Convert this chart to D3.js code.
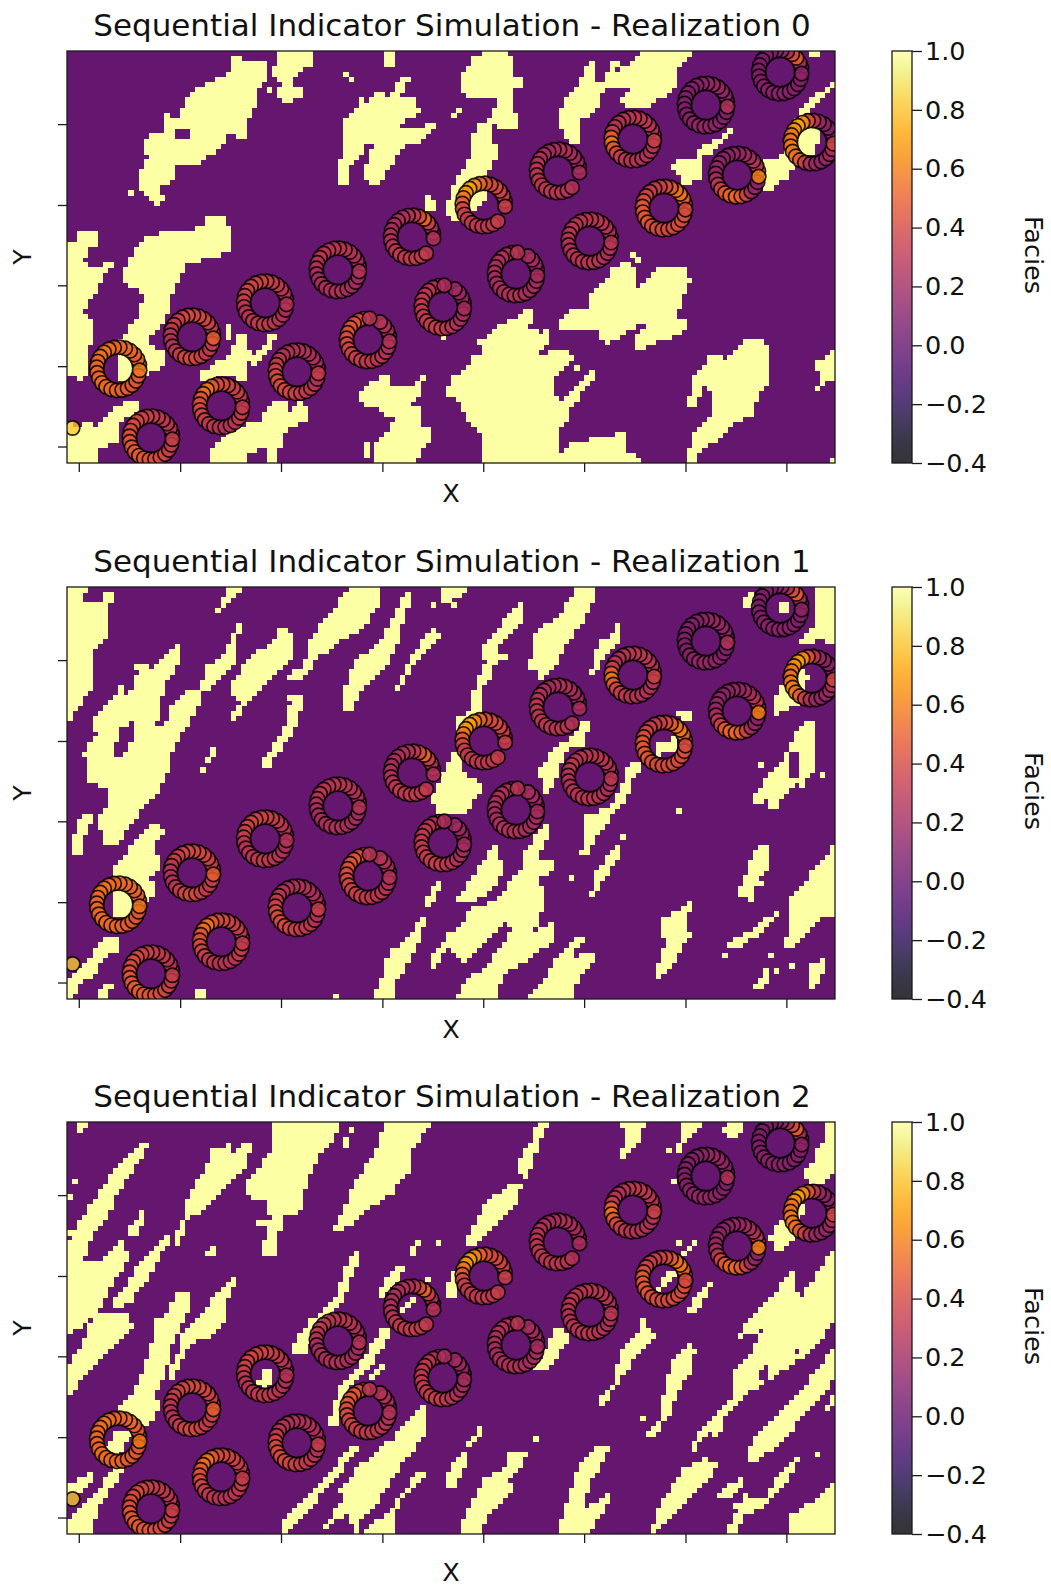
<!DOCTYPE html>
<html><head><meta charset="utf-8">
<script src="https://cdn.jsdelivr.net/npm/d3@7"></script>
<style>html,body{margin:0;padding:0;background:#fff}svg{display:block}text{font-family:"DejaVu Sans";fill:#111}</style>
</head><body><svg id="c" width="1051" height="1587"></svg>
<script>
// Facies outlines, in grid cells (col,row pairs, row 0 at the top of a 150x80 grid)
const faciesShapes0 = [
[31.8,1.4,33.8,.8,35.4,2.4,39.3,2.4,39,5.6,37.4,7.2,37,9.5,35.4,12.8,34.8,17.6,31.8,15.3,30.2,18.9,25.3,21.8,21.4,22.5,20.8,24.4,18.2,26.7,18.8,28.9,16.9,29.9,15.6,28.3,13.6,26.3,11.3,28,13.6,25.7,14.3,23.1,16.2,20.2,14.9,18.6,15.6,16.3,18.8,15.7,18.8,11.8,20.1,12.8,21.4,12.8,22.7,10.2,24.7,7.6,28.6,5.6,31.2,4.3,32.5,2.4],
[41,0,48,0,48,2.4,46,3.7,44.5,4.7,44.5,7,46.5,7.3,46.5,8.5,44,9.2,43,10.8,41,8.9,42,5.6,40.3,5.3,40,2.7,41,2.4],
[38.7,7,40.5,7,40.5,8,38.7,8],
[62.3,0,64,0,64,2.6,62.3,2.6],
[57.2,8.9,58.2,10.5,61.1,7.9,63.1,8.9,65,5.3,67,5.3,65.7,7.2,64.4,9.5,67.6,9.5,68.9,11.8,67,13.1,65,13.7,64.7,15.3,69.9,15,70.9,13.4,72.7,14,70.9,16,68.3,17.9,65.7,18.6,63.7,21.2,60.5,26.3,57.9,24.4,59.8,17.9,58.9,17.6,56.6,21.2,54.5,22.1,55,26,53,26.3,53,22,54,21,53.5,16,54,13.5,56.3,11.1],
[79.4,1,82,0,84.3,0,86.9,1,87.2,4.3,89.1,5.6,89.5,6.9,87.5,7.2,87.2,10.2,87.8,14.7,85.5,15.3,83.6,14,82.6,16,79,16.3,80.3,14.4,82.6,12.7,83.9,10.5,83.9,8.5,81.3,9.5,78.1,8.5,76.8,7.2,77,5,79.4,2.1],
[79,16,82.6,14.7,83.6,18.9,83.6,20.8,82,24.7,82,28,80,30.6,79.4,31.5,75.8,32.8,73.5,31.2,75.5,26,78.1,22.1,79,18.9],
[69.6,29.5,70.6,28,72.5,30,71,31.5,69.6,30],
[95.6,13.7,96.9,9.2,99.5,7.2,101.2,2.7,102.8,2.1,102.5,6.3,104.8,6,106,2.1,108.7,1.1,106.7,4.3,110.6,2.1,111.9,0,122.3,0,119.4,3.4,118.4,7.2,113.9,10.5,108.7,10.8,108.3,8.9,110.6,7.2,108.7,6.9,104.8,7.2,103.4,11.1,100.2,13.7,99.5,18.3,97.6,17.6,96.6,14.4,95.6,15.7],
[119.4,21.5,121.7,21.5,122.7,21.2,123.6,18.3,126.9,17,130.1,15,130.1,16,125.6,19.5,123.6,21.2,123.6,24.7,120.7,26.7,119.7,24.1,118.4,23,118.4,22],
[136.3,21.5,138.6,20.5,141,18,142,14,143.2,11.1,146.4,8.5,149.7,5.6,149.7,6.9,147,9.8,144.4,12.4,146,14,147,15.7,145.8,20.2,144.4,20,143,21,141.9,22.8,140.6,24.7,137.3,26.7,136,26.7],
[145,0,147,0,147,1,145,1],
[79.7,55.8,81.3,56.1,84.6,53.2,87.2,51.9,88.8,50.6,90.7,50.3,91,52.2,90.4,53.5,92.4,55.1,94,54.2,94,56.4,91.7,59,95,58.4,97.6,58.1,97.6,61,95,63.6,95.6,68.1,98.2,66.8,100.2,64.2,103.8,61.3,102.5,63.6,100.2,66.8,99.5,68.4,98.2,69.4,98.2,71.3,96.3,73.3,96.3,77.8,99.2,75.9,101.5,75.9,103.4,74.6,105.4,75.2,108.7,73.9,109.6,75.9,108.7,77.8,111.9,78.8,112.2,80,81.3,80,81.3,74.6,78.1,72,76.4,67.4,74.2,66.5,74.5,64.9,75.1,62.9,77.4,62.3,79.4,59.4,81,58.1],
[96.3,52.2,98.2,50.3,101.8,50,102.1,47.1,104.8,45.1,106,42.8,108.7,40.9,110.6,41.9,111.3,44.1,110,46.7,112.5,45.1,115.2,42.2,119,41.6,120.4,42.8,121.7,44.8,121,46.4,119.7,47.4,119.4,51.9,120.7,52.6,120.4,54.2,117.8,55.5,112.5,57.7,110.6,57.4,111.9,54.5,113.5,53.2,111.3,53.2,108,55.1,106,56.8,104.4,56.4,103.8,53.9,100.2,53.9,96.6,54.5],
[57.2,66.8,59.2,64.5,62.8,62.9,63.1,65.5,67,64.9,69.6,63.2,69.3,66.1,66,69.4,68.9,68.4,69.3,72.9,70.9,73.3,70.9,74.9,68,80,60.2,80,60.2,75.9,62.4,74.6,64.4,70,63.1,71,60.5,69,57.6,68.4],
[121.7,63.2,124.3,61.3,125.6,59,128.8,59.7,133,55.8,137.3,56.8,137,63.9,134.7,67.4,134,70.7,130.8,72,127.5,75.2,124,77.2,122.3,80,120.4,80,122.3,74.6,125.6,71.3,126.5,66.1,124.3,64.9,123,68.7,121,68.7,122.3,65.5],
[146.1,60.3,147.7,60,149.7,58,149.7,63.6,147.7,64.9,146.4,65.8,147.1,62.9,146.1,61.3],
[0,37.5,1.5,37,3,34.1,4,35.5,6.1,35.4,6.1,37.3,3.8,38.6,3.2,41.2,6.4,42.2,7.7,40.6,8.7,41.2,6.4,45.1,6.1,47.1,4.2,48.3,3.2,50.6,5.5,53.5,4.5,56.8,4.2,62,2.5,64.2,.9,62.3,0,63.6],
[10.4,45.1,11.7,41.2,13.6,38.3,15.6,36.4,18.8,35.4,22,35.4,26,34.1,28.3,31.5,31.2,32.2,32.2,37.7,31.2,39.3,27.9,40,23.4,41.2,20.4,47,19.5,50.9,17.5,54.2,15,57.1,18.8,58,19.1,60.6,15.6,62.6,12.6,64,10.4,64.2,10.2,56,13,52.9,14.9,48.3,14.3,46.4],
[0,72.3,2.5,73,4.2,71.6,5.5,72.6,8.4,69.7,9.4,69,14.3,67.4,14.3,69.4,10.4,72.3,10,75.9,6.4,76.8,5.8,80,0,80],
[26,64.2,26,62.6,31.2,59.4,33.8,54.8,34.8,55.2,34.8,64,31.8,63,28.6,63.6],
[31,53.5,32,53.5,32,56,31,56],
[35.1,58,37,58.7,39,55.8,41.6,54.2,41,55.8,38.3,59.4,36.7,61,35.4,59.4],
[27.9,80,28.6,76.8,32.5,73.6,37.7,71.6,39,69.7,41,67.4,42.6,67.8,42.9,70.7,45.5,68.4,47.1,69.7,46.5,72,42.9,73,41.3,77.5,41.3,80,39,80,38.5,77,34.8,78.5,34.8,80],
[57.8,76,59,76,59,79,57.8,79]
];
const faciesHoles0 = [[21,15,23.6,15,23.6,16.6,21,16.6],[100,42,101,42,101,44,100,44]];
const faciesDots0 = [[76,11],[75,12],[149,79],[110,39],[111,40],[120,42],[120,43],[98,59],[99,61],[12,27],[15,19],[54,4],[55,5],[82,5],[79,3],[73,55]];

const faciesShapes1 = [
[0,0,3.8,0,3.2,2.5,6.4,3.2,7.1,.6,9.4,.6,7.7,4.5,7.7,9.6,4.8,13.2,4.5,18.1,5.1,19.4,3.8,20.6,0,26.5],
[29.2,4.8,30.5,1.9,31.8,0,34.8,0,31.8,2.5,29.9,5.4],
[4.8,25.2,8.4,22.6,10,20.6,11,17.7,11,21,13,19.4,13.6,16.1,12.6,15.1,15.6,14.8,16.2,16.4,18.8,14.2,20.1,11.9,22.1,10.9,22.1,14.5,19.5,18.1,18.5,21.3,17.5,26.5,19,27,21.1,21.9,24.3,20,26.6,20,26,22.6,23.4,27.1,20.8,30.4,20.1,34.9,18.2,38.8,13.6,44.6,9.7,49.8,7.1,50.4,6.1,45.2,8.1,41.4,7.4,39.1,4.2,37.5,4.2,34.9,3.2,32.3,4.2,30.4,5.8,29],
[31.5,20.6,31.8,19.4,35.1,14.2,37.7,11.9,40.3,10.9,41.6,7.4,44.2,9,44.2,12.9,40.3,16.8,37.7,20,34.4,23.6,32.5,25.8,32.5,24.5,34.1,21.9],
[25.7,20,27.3,15.5,30.5,13.5,31.8,10.9,33.1,7,34.8,7,33.1,9.3,32.5,11.6,33.1,14.2,30.5,16.8,27.9,20],
[42.9,18.7,43.6,16.4,46.2,15.8,47.1,10.9,50.1,6.4,54.6,1.2,56,0,61.5,0,61.5,2.5,57.2,8.3,52.7,10.9,50.1,12.9,48.1,14.8,46.2,17.4],
[54.3,20,55.9,14.2,59.8,12.2,61.8,9.6,63.7,5.8,66.3,.6,67.6,1.9,65.7,5.8,65,10.3,62.4,14.8,58.5,18.7,55.9,23.2,54,24.9,53.6,20.6],
[64.1,20,66.3,15.5,68.6,11.6,71.5,8,72.9,9.3,69.6,12.9,67,16.1,65,19.7],
[38,34.2,40.3,30.4,42.3,27.8,43.6,22.6,42.9,21.3,46.5,21.3,45.5,23.9,44.2,27.8,41.6,31.7,39.3,35.2],
[25.3,36.2,27.3,33.6,28.3,31,29.9,30.7,28,33.6,26,36.8],
[1,52.4,1.9,45.2,4.5,44,5.5,44.6,3.2,48.5,3.2,52.4],
[9,55,13,49.8,15.6,46.9,17.8,45.6,18.8,47.5,16.5,50.4,18.5,54.3,16.2,56.2,17.2,59.8,15.7,61.1,12.6,61.7,12.6,64.3,9,64.3,9,60.5,10.4,56.9],
[0,80,0,76.3,3.2,73.1,7.1,68.5,9,67.3,10.4,69.8,7.4,72.4,4.5,75.7,1.9,77.6,1,80],
[5.5,80,7.1,77.3,9,77.3,7.7,80],
[24.4,80,24.7,78.6,26.6,77.6,26.6,80],
[52,80,52.3,78.6,53.6,78.6,53,80],
[59.2,80,61.1,77,62.8,71.1,67.6,66.6,70.2,63.4,69.3,67.3,67.6,71.1,65,75.7,63.7,77.3,63.7,80],
[70,62,71,59,73.2,56.6,73.2,58,71.5,61],
[70.9,72,72,70,74,68.5,75,69,73,72,71.5,74],
[73.5,.5,78.1,0,75.5,2.5,73.5,2.8],
[81.3,11.6,85.2,6.7,88.5,3.2,89.5,2.8,89.1,6.7,84.6,10.9,83.6,12.2,86.2,13.5,83.6,14.8,82.3,18.7,80.7,20.3,79.6,19.4,81,16.1,82.3,13.9,80.7,13.9],
[79.6,20,80.7,20.3,80.5,25,76,28,76,25.5,78.5,24.5],
[70.9,40.7,74,35.5,75.8,31.7,77.5,33,77,36,81,38,80.5,40,77,44.5,74,44.5,72,43.5],
[90.1,15.5,91.7,8.3,95.3,6.4,99.1,.6,99.5,0,102.8,0,102.5,3.2,100.9,6.4,97.3,11.6,94.7,16.1,92.7,18.1,91.5,16],
[92.4,35.5,94.7,31.7,98.6,29,101.2,25.2,101.8,27.1,100.9,30.4,97.9,31.7,96,35.5,94.7,38.8,92.7,40.7],
[76.5,60.5,77.7,58.5,81.6,52.4,83.9,49.8,84.6,53.6,85.2,55.6,82.3,59.2,78,61.8],
[89.1,51.4,93.4,46.2,94.7,45.9,92.7,50.4,92,53,96,53.7,92,56.9,93.4,60.8,91.4,66.6,94.7,65.3,94.7,68.5,90.1,72.4,85.5,75,83.3,80,75.8,80,77.7,77,82.3,73.1,86.9,66.6,85,65,80.3,70.5,77.4,73.1,73.8,69.2,73.8,67.9,77.1,65.3,79,62.7,83.6,60.8,89.5,53.7],
[100.5,44.6,106.4,42.7,109.3,36.8,110,38.8,108.3,42,106.4,44.6,101.8,50.4,101.2,53,100.2,52,101.5,46.5],
[109,36,111,33,112.3,35,110,37],
[102.5,59.5,103.1,55.6,106.4,51,108.3,50.1,107.7,52.4,105.7,55.6,103.5,58.8,102.5,60.5],
[90.1,80,93.4,75.7,96,71.1,99.2,68.5,101.2,68.2,99.2,70.5,98.3,71.8,102.5,70.8,102.8,72.8,99.9,75.7,98.6,80],
[102.2,17.4,103.8,10.9,107.1,9,107.7,6.1,108.4,6.1,108,9.6,107.1,11.6,104.4,14.2,102.8,17.4],
[114.9,30.4,118.7,29.1,118.7,31.7,115.5,32.6],
[119.4,24.5,121.7,24.5,121.7,26.5,120,26],
[137.3,25.2,138.9,20,140.9,18,143,16,145,17.5,143.5,20,142.8,22.6,139.6,24.2],
[142.8,11,146,7.7,146.4,0,150,0,150,11.6,146.8,9.6,145.4,11.3],
[131.5,4.5,133.4,.6,134,.6,133.7,4.5],
[139,3.5,141,2.5,141,5,139.6,5.5],
[134,40.7,135.8,38.1,138.3,35.5,140.9,31.7,142.8,27.8,145.4,25.8,145.8,27.8,145.8,35.5,143.2,38.1,140.9,39.4,138,43.6,136.3,40.7,135,42.7],
[130.8,60.1,132.7,55.6,134.3,51,136.7,49.5,136.7,54.3,135.4,56.2,133.4,60.1],
[114.8,74,116.8,69.8,116.1,64.7,119.4,62.7,122,60.8,121,66,121.7,67.2,118.8,72.4,115.5,76],
[128.2,72.1,129.8,68.9,134.4,66,138.3,63,138.9,63.4,136.3,66.6,132.4,69.2,129.5,70.5,129.2,72.1],
[140.9,60.8,145.4,55.6,150,49.8,150,63.5,146,64.7,144.8,67.2,142.2,69.8,140.9,70.5,140.2,69.2,141.5,66,141.5,62.7],
[133.7,78.3,135.4,76.3,137.3,72.8,136.7,72.4,137.2,76,135.7,78.3],
[144.8,77.6,145.4,73.1,147.4,72.4,147.7,75,145.8,77.9]
];
const faciesHoles1 = [[10.5,27.5,13,26,13,29,11,33.5,9.5,33.5,9.5,30],[141.5,32,143.5,31.5,143.5,34,142.5,37,141,37],[84,38,85,38,85,39,84,39]];
const faciesDots1 = [[138,74],[141,73],[135,34],[108,48],[98,56],[84,46],[4,34],[1,20],[12,34],[143,38],[135,57],[119,43],[137,71],[133,60],[147,36],[54,3],[147,72],[146,64],[71,3],[75,3]];

const faciesShapes2 = [
[1.6,0,4.8,0,2,2.5,1.5,2.5],
[0,24,2.5,19.4,5.8,14.2,8.4,10.3,12.6,5.8,14.9,3.2,15.9,3.8,14.3,7.1,12.3,10.3,9.4,14.2,9,16.8,5.1,21.9,3.2,26.8,7,26.5,9,24,11,23.3,12,26.5,9.4,30.4,7.1,35,3.2,39,0,41.8],
[0,53.7,0,47.2,3.2,43.3,5.1,37.5,9,37.2,12.3,37.5,12.6,40,9.7,43.3,7.1,45.2,5.8,46.5,2.5,50.4],
[12,21.3,14.6,16.8,15,18.1,14,22.9],
[13,29,16.2,25.8,19.5,22.3,20.4,22.6,18.2,25.8,15.6,30.4,12.3,34.9,9.7,36.8,9,35,12,31],
[10,55.6,12.6,52.4,14.9,47.8,17.2,40.7,16.9,38.8,19.5,37.5,21.1,32.9,23.7,32.9,24.3,34.6,22.1,40,20.4,43.3,18.8,49.8,16.9,52.4,18.2,55.6,15.6,58.2,13.9,54.3,11,55.6],
[22.1,41.4,26.6,36.8,29.2,33.6,33.1,29.4,33.8,29.7,31.8,33,30.5,38.8,27.3,42,24,42.7,22.7,45.2,20.8,49.8,19.8,49.1,21.7,44.6],
[23,15.5,26.6,9.6,28.6,5.1,31.8,4.1,32.5,6.4,34.8,3.8,36,4.5,34.4,9,31.8,11.6,29.2,14.8,26,17.4,23.7,18,22.7,21.3,21.7,23.6,20.8,23.2,22.7,18.5],
[27.3,25.8,28.9,22.9,29.2,25.2,27,26.2],
[40.3,0,52.7,0,53,1.9,50.1,5.1,47.5,9.6,45.5,17.4,41.9,18.7,40.3,26.5,38,26.5,38,24.5,39.6,20.6,37,20,37.7,18.7,39.6,18.7,39.3,15.8,35.7,14.2,34.8,12.2,38.3,7.7,40.3,4.5],
[51.7,21.6,54,17.4,55.9,12.2,60.5,5.1,62.4,0,70.9,0,67.6,4.5,67,9,63.7,13.5,58.5,16.8,55.9,19.4],
[54,3.8,56,.6,56.6,.6,54.6,3.8],
[43.6,44,47.5,38.1,50,37,52.7,33.6,54.6,27.8,56.6,24.5,56.9,26.5,54.6,32.3,53,36,50,39,46,45.5],
[60.2,34.2,62.1,30.4,65,27.1,65.7,29,64.4,31.6,61.1,34.6],
[66.3,26.5,68,23.6,68.6,23.2,67.6,26.5],
[53.6,51,58.5,45.2,61.5,40,63.1,40.7,60.2,45.9,57.2,49.8,55.3,51.7,54,55.6,52.3,59.5,51,58.8,52.7,53],
[53.3,71.1,57.2,66.6,63.7,61.4,67,56.9,69.6,55,70.6,60.1,67.6,63.4,65,67.2,61.1,73.1,57.2,77,57.2,80,56.6,80,54.6,76.3,52.7,77.3,49.4,80,52.7,75,54,73.1],
[41.6,80,42.9,76.3,46.8,73.1,50.7,69.2,53,66,55.9,62.4,56.9,63.4,53.3,67.9,50.1,71.8,46.2,76.3,42.9,80],
[57.9,80,63.7,74.4,67.6,69.2,69.9,67.3,70.2,67.9,66.3,71.8,63.7,76.3,63.7,80],
[0,80,0,77,3.2,74.4,7.1,69.8,9.7,67.3,11.3,66.6,9.7,70.2,6.4,73.7,4.5,80],
[0,70.5,3.2,69.2,5.1,67.9,4.8,69.2,2.5,72.4,0,72.4],
[7.4,63.4,9.7,59.8,12.6,60.8,11.3,62.4,10,64.7,7.4,64],
[10.4,55.6,13.6,53.7,18.5,55,15.6,58.8,12.3,60.8,11,57],
[65,36.8,67.6,34.2,67.6,35,65.6,36.8],
[70,30.7,71.9,29.4,72,30.4],
[73.5,33.6,74.8,29.7,76.1,27.8,76.4,33.6],
[37,50.4,39,47.8,40.3,47.2,40,51,38.3,51.7],
[58.9,49.8,62,46.5,62.5,47,59.5,50.3],
[88.5,7.1,91.1,2.5,92,0,94,0,92,4.5,90.8,9,89.5,10.6,87.8,10],
[77.7,23.6,81.3,16.1,84.9,13.2,89.1,11.3,87.8,15.5,83.6,20,79.4,24.2],
[108.3,0,113,0,111.6,3.8,109.3,5.8,108,7.7,107.7,6.7,109,4.2],
[119.1,7,120.1,0,124.4,0,120.7,3.8,119.4,5.8,118.7,9.3],
[127.2,1.9,129.8,0,131.7,0,131.4,2.5,129.8,2.9],
[144.2,9.6,147.4,5.1,147.7,.6,150,0,150,9.6,146.8,12.2,144.8,12.2],
[137,22.6,139.6,18.4,142.8,15.5,144.5,16.1,142.8,18.7,141.5,22.6,138.9,25.2],
[131.1,42,132.4,39.4,136.3,35.5,140.2,30.4,142.8,28.4,142.2,30.4,142.8,34.9,146.1,29.7,150,24.5,150,38.8,144.8,44.6,140.2,47.8,136.3,50.4,131.1,54.3,127.9,58.2,127.2,61.7,125,60.1,122,64.3,122,62.1,125.9,57.5,129.5,53.7,130.5,48.5,133.7,45.2,135.7,40.1],
[132.7,63.4,136.3,59.5,142.2,53.7,146.1,48.5,150,43.3,150,49.8,146.7,54.3,142.8,57.5,138.9,62.7,134.4,66,132.7,65.3],
[146.7,57.2,150,52.4,150,54.3,146.7,57.2],
[128.5,80,131.1,75,132.4,72.4,136.3,73.1,138.9,68.5,142.2,64.7,142.8,65.3,140.9,69.2,138.3,72.4,135.7,74.7,132.4,76.3,130.5,80],
[140.9,80,141.5,76.3,145.4,73.7,150,69.2,150,80],
[113.6,80,115.5,75,118.8,69.8,120.7,67.2,124,65.3,127,66.3,125.3,69.2,122.7,71.8,119.4,75,114.8,80],
[95.6,80,97.9,73.1,99.9,67.2,103.1,63.4,106.4,62.7,104.4,66.6,101.8,70.5,100.5,75.7,106.4,71.8,105.7,73.7,101.8,80],
[76.4,80,77.7,77,81.6,69.2,85.5,67.3,86.9,71.1,82.3,76.3,80.3,80],
[84.9,67.9,86.9,63.4,89.5,64,93.4,59.2,91.4,61.4,89.5,65.3,86.9,69.2],
[73.8,69.2,75.8,66,77.7,63.4,81,58.2,81,60.1,78,64,77.7,66.6,75.8,71.1,73.8,71.1],
[103.5,54.6,106.7,50.4,106.7,48.5,109,43.3,112.2,40.1,112.2,38.1,115.2,41.4,113.5,42.7,110.3,46.5,107.7,50.4,105.7,53.7,103.8,55],
[115.8,57,116.8,51,118.8,45.2,121.3,43.3,122.7,44,122,47.8,119.4,52.4,116.8,58.2],
[112.9,61.1,115.5,58.2,116.8,58.8,114.2,61.4],
[91.1,48,94,43.3,96,39.4,98.6,42,95.3,45.9,93.7,48.5],
[114.5,32.6,118.1,28.7,119,29.7,116,33],
[119.4,25.2,122.7,23.2,120.7,26.5],
[120.7,37.1,124,32.3,126,30.4,124.7,33.6,122.5,37.5],
[126.6,73.7,129.2,69.8,132.4,69.2,131.1,71.8,128.5,73.1]
];
const faciesHoles2 = [[134.4,48.8,136.3,46.9,137.3,49.1,135.7,50.4],[142,44,143,44,143,45,142,45]];
const faciesDots2 = [[72,23],[68,3],[54,4],[118,11],[117,5],[119,23],[0,14],[0,21],[1,11],[6,13],[7,12],[112,57],[124,69],[130,74],[145,31],[146,5],[141,59],[146,64]];

const shapeSets = [faciesShapes0, faciesShapes1, faciesShapes2];
const holeSets = [faciesHoles0, faciesHoles1, faciesHoles2];
const dotSets = [faciesDots0, faciesDots1, faciesDots2];

// Well rings: centre col, row
const ringCols = [10,16.4,24.4,30.1,38.7,44.9,52.9,58.8,67.4,73.4,81.4,87.7,95.9,102.1,110.5,116.6,124.8,130.9,139.3,145.5];
const ringRows = [61.7,75.1,55.5,68.9,48.9,62.3,42.5,56.1,36.1,49.7,29.9,43.3,23.3,36.9,17.1,30.5,10.5,24.1,4.1,17.7];
// Facies probability at each of 24 stations per ring, read from colour; null = no station
const ringValues = [
[.48,.5,.5,.52,.52,.54,.54,.56,.58,.56,.54,.53,.53,.54,.56,.56,.54,.53,.52,.5,.48,.48,.48,.58],
[.3,.3,.31,.32,.33,.35,.37,.39,.41,.43,.43,.45,.47,.47,.49,.49,.47,.47,.45,.42,.39,.37,.35,.35],
[.35,.37,.39,.39,.41,.41,.41,.39,.37,.35,.33,.29,.27,.27,.31,.35,.39,.43,.41,.37,.33,.33,.37,.5],
[.32,.33,.35,.37,.39,.41,.43,.49,.6,.55,.47,.45,.42,.39,.35,.32,.31,.29,.29,.29,.31,.33,.35,.34],
[.27,.29,.31,.33,.35,.37,.39,.39,.39,.39,.37,.35,.31,.29,.29,.31,.33,.33,.33,.31,.29,.27,.25,.28],
[.24,.24,.26,.26,.27,.27,.27,.27,.29,.31,.35,.39,.41,.41,.41,.41,.39,.37,.35,.33,.31,.29,.27,.36],
[.25,.25,.27,.29,.31,.31,.31,.31,.31,.31,.29,.27,.23,.23,.25,.25,.27,.27,.27,.25,.23,.22,.22,.28],
[.27,.27,.27,.29,null,.31,.43,.45,.47,.47,.45,.43,.41,.39,.37,.35,.35,.33,.33,.31,.31,.29,.27,.28],
[.22,.27,.39,.55,.42,.29,.27,.27,.25,.25,.25,.27,.27,.29,.31,.33,.33,.35,.35,.33,.34,null,null,.28],
[.19,.19,.21,.21,null,.26,.27,.29,.31,.33,.33,.33,.33,.33,.33,.35,.35,.35,.33,.29,.27,.25,.23,.23],
[.35,.37,.39,.41,.41,.45,.52,.65,.72,.67,.57,.47,.39,.35,.33,.33,.33,.33,.33,.33,.36,null,null,.36],
[.21,.21,.23,.23,null,.3,.27,.27,.27,.27,.25,.25,.23,.23,.25,.25,.27,.27,.27,.25,.23,.23,.23,.23],
[.19,.21,.23,.25,.27,.27,.25,.23,.25,.27,.29,.31,.31,.31,.31,.31,.31,.31,.31,.29,.28,null,null,.25],
[.25,.27,.29,.3,.31,.31,.31,.3,.3,.31,.31,.29,.27,.27,.29,.29,.31,.31,.31,.29,.27,.25,.27,.3],
[.27,.29,.31,.32,.33,.33,.31,.29,.27,.29,.37,.52,.6,.47,.39,.35,.31,.29,.29,.27,.27,.27,.29,.38],
[.47,.53,.6,.57,.47,.41,.37,.35,.35,.39,.45,.49,.49,.47,.47,.43,.43,.41,.41,.41,.41,.43,.45,.42],
[.13,.15,.17,.19,.19,.17,.15,.13,.11,.11,.1,.1,.1,.11,.13,.15,.17,.17,.17,.15,.13,.11,.11,.28],
[.42,.32,.27,.23,.21,.19,.17,.15,.15,.15,.17,.19,.25,.31,.39,.49,.53,.55,.51,.37,.22,.15,.15,.62],
[.11,.27,.52,.42,.22,.17,.13,.11,.09,.09,.09,.1,.1,.11,.12,.12,.13,.13,.13,.12,.11,.11,.11,.16],
[.15,.13,.13,.15,.21,.31,.47,.68,.72,.65,.57,.57,.59,.59,.55,.47,.35,.25,.19,.17,.17,.21,.27,.4]
];
const raisedStations = {7:5, 9:5, 11:5};
const soloPoint = {col:1.1, row:73.2, value:.82};

const xTickValues = [2.3,22.1,41.8,61.6,81.3,101,120.8,140.5];
const yTickValues = [14.2,29.9,45.5,61.2,76.8];
const cbarTicks = [-0.4,-0.2,0,0.2,0.4,0.6,0.8,1.0];
const titles = ["Sequential Indicator Simulation - Realization 0","Sequential Indicator Simulation - Realization 1","Sequential Indicator Simulation - Realization 2"];
const panelTops = [51,587,1122];
const xLabelGaps = [39,39,47];

const W = 768, H = 412, L = 67, CBX = 892, CBW = 20;
const x = d3.scaleLinear().domain([0,150]).range([0,W]);
const y = d3.scaleLinear().domain([0,80]).range([0,H]);
const vNorm = d3.scaleLinear().domain([-0.4,1]).range([0,1]);
const cmap = v => d3.interpolateInferno(vNorm(v));
const yc = d3.scaleLinear().domain([-0.4,1]).range([H,0]);
const ringR = 4.2, dotR = 7.2;

const svg = d3.select("#c");
const defs = svg.append("defs");
const grad = defs.append("linearGradient").attr("id","cb").attr("x1",0).attr("x2",0).attr("y1",1).attr("y2",0);
d3.range(0,1.0001,0.05).forEach(t=>grad.append("stop").attr("offset",t).attr("stop-color",d3.interpolateInferno(t)).attr("stop-opacity",0.8));
defs.append("clipPath").attr("id","ax").append("rect").attr("width",W).attr("height",H);
defs.append("filter").attr("id","soft").attr("x",0).attr("y",0).attr("width",1).attr("height",1)
  .append("feGaussianBlur").attr("stdDeviation",0.55);

function pairs(f){const o=[];for(let i=0;i<f.length;i+=2)o.push([f[i],f[i+1]]);return o;}

titles.forEach((title,p)=>{
  const g = svg.append("g").attr("transform",`translate(${L},${panelTops[p]})`);
  const shapes = shapeSets[p].map(pairs), holes = holeSets[p].map(pairs);
  const cells = [];
  for(let r=0;r<80;r++)for(let c=0;c<150;c++){
    const pt=[c+.5,r+.5];
    if(shapes.some(s=>d3.polygonContains(s,pt)) && !holes.some(s=>d3.polygonContains(s,pt))) cells.push([c,r]);
  }
  dotSets[p].forEach(d=>cells.push(d));
  const plot = g.append("g").attr("clip-path","url(#ax)").append("g").attr("filter","url(#soft)");
  plot.append("rect").attr("width",W).attr("height",H).attr("fill",cmap(0));
  plot.append("g").attr("shape-rendering","crispEdges").selectAll("rect").data(cells).join("rect")
    .attr("x",d=>x(d[0])).attr("y",d=>y(d[1]))
    .attr("width",x(1)-x(0)+.5).attr("height",y(1)-y(0)+.5)
    .attr("fill",cmap(1));
  // rings
  const pts=[];
  ringValues.forEach((vals,k)=>{
    const list=[];
    vals.forEach((v,i)=>{ if(v===null)return;
      const a=((i+1)*15-4)*Math.PI/180;
      list.push({col:ringCols[k]+ringR*Math.cos(a),row:ringRows[k]-ringR*Math.sin(a),value:v,i});
    });
    const raised=raisedStations[k];
    list.sort((a,b)=>(a.i===raised)-(b.i===raised)||a.i-b.i);
    pts.push(...list);
  });
  pts.unshift(soloPoint);
  plot.append("g").selectAll("circle").data(pts).join("circle")
    .attr("cx",d=>x(d.col)).attr("cy",d=>y(d.row)).attr("r",dotR)
    .attr("fill",d=>cmap(d.value)).attr("fill-opacity",.8)
    .attr("stroke","#000").attr("stroke-opacity",.85).attr("stroke-width",1.7);
  // frame + axes
  g.append("rect").attr("width",W).attr("height",H).attr("fill","none").attr("stroke","#1a1a1a").attr("stroke-width",1.3);
  const ax = g.append("g").attr("transform",`translate(0,${H})`)
    .call(d3.axisBottom(x).tickValues(xTickValues).tickFormat("").tickSize(9).tickSizeOuter(0));
  const ay = g.append("g").call(d3.axisLeft(y).tickValues(yTickValues).tickFormat("").tickSize(9).tickSizeOuter(0));
  [ax,ay].forEach(a=>{a.select(".domain").remove();a.selectAll("line").attr("stroke","#1a1a1a").attr("stroke-width",1.3);});
  g.append("text").attr("x",W/2+1).attr("y",-15).attr("text-anchor","middle").style("font-size","31px").text(title);
  g.append("text").attr("x",W/2).attr("y",H+xLabelGaps[p]).attr("text-anchor","middle").style("font-size","25.5px").text("X");
  g.append("text").attr("transform",`translate(-36,${H/2}) rotate(-90)`).attr("text-anchor","middle").style("font-size","25.5px").text("Y");
  // colorbar
  const cb = g.append("g").attr("transform",`translate(${CBX-L},0)`);
  cb.append("rect").attr("width",CBW).attr("height",H).attr("fill","url(#cb)").attr("stroke","#1a1a1a").attr("stroke-width",1.3);
  const ac = cb.append("g").attr("transform",`translate(${CBW},0)`)
    .call(d3.axisRight(yc).tickValues(cbarTicks).tickFormat(d3.format(".1f")).tickSize(10).tickSizeOuter(0));
  ac.select(".domain").remove();
  ac.selectAll("line").attr("stroke","#1a1a1a").attr("stroke-width",1.3);
  ac.selectAll("text").attr("x",13).style("font-size","25.5px").style("font-family","DejaVu Sans").attr("fill","#111");
  g.append("text").attr("transform",`translate(${1034-L},${H/2-2}) rotate(90)`).attr("text-anchor","middle").attr("dy","0.35em").style("font-size","25.5px").text("Facies");
});
</script></body></html>
